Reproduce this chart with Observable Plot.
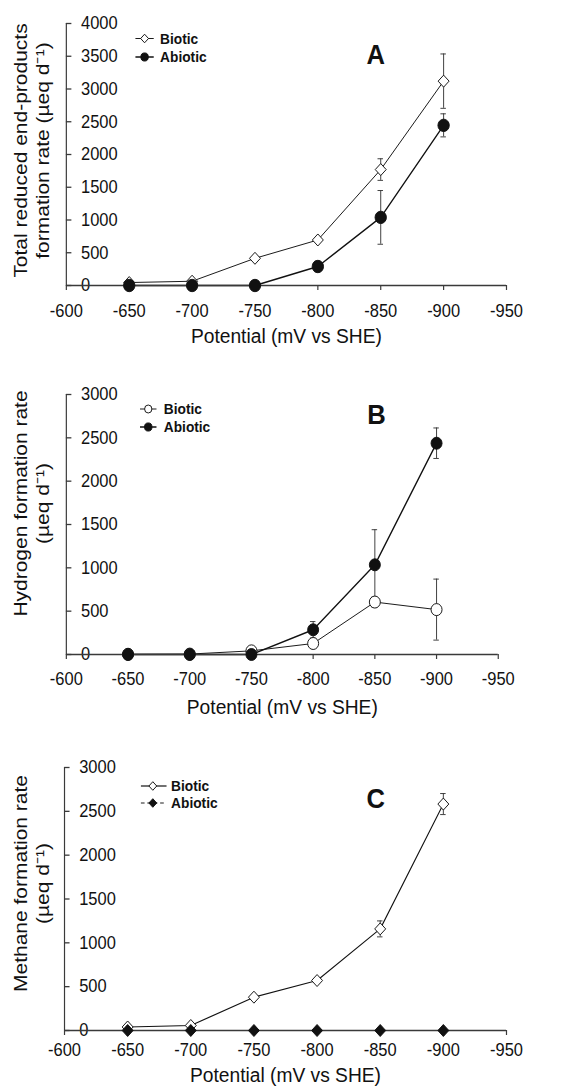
<!DOCTYPE html>
<html><head><meta charset="utf-8">
<script src="https://cdn.jsdelivr.net/npm/d3@7"></script>
<script src="https://cdn.jsdelivr.net/npm/@observablehq/plot@0.6"></script>
<style>
body{margin:0;background:#fff;}
#chart svg{display:block;}
</style></head><body><div id="chart"></div>
<script>
// ---------- data ----------
const potentials = [-650, -700, -750, -800, -850, -900];
const xTicks = [-600, -650, -700, -750, -800, -850, -900, -950];
const xTitle = "Potential (mV vs SHE)";
const legendLabels = ["Biotic", "Abiotic"];

// Panel A: total reduced end-products
const totalBiotic = [45, 65, 415, 695, 1770, 3120];
const totalBioticErr = [0, 0, 0, 0, 165, 415];
const totalAbiotic = [0, 0, 0, 290, 1040, 2445];
const totalAbioticErr = [0, 0, 0, 80, 410, 176];
const yTicksA = [0, 500, 1000, 1500, 2000, 2500, 3000, 3500, 4000];
const yTitleA = "Total reduced end-products\nformation rate (µeq d⁻¹)";

// Panel B: hydrogen
const h2Biotic = [3, 5, 42, 127, 605, 518];
const h2BioticErr = [0, 0, 0, 40, 60, 352];
const h2Abiotic = [0, 0, 0, 285, 1035, 2438];
const h2AbioticErr = [0, 0, 0, 95, 405, 176];
const yTicksB = [0, 500, 1000, 1500, 2000, 2500, 3000];
const yTitleB = "Hydrogen formation rate\n(µeq d⁻¹)";

// Panel C: methane
const ch4Biotic = [40, 57, 380, 570, 1159, 2583];
const ch4BioticErr = [0, 0, 0, 0, 91, 120];
const ch4Abiotic = [0, 0, 0, 0, 0, 0];
const ch4AbioticErr = [0, 0, 0, 0, 0, 0];
const yTicksC = [0, 500, 1000, 1500, 2000, 2500, 3000];
const yTitleC = "Methane formation rate\n(µeq d⁻¹)";

// ---------- helpers ----------
const W0 = 624;      // drawing width (original figure proportions)
const WOUT = 571;    // displayed width
const axisColor = "#3a3a3a";
const ink = "#111";
const font = "'Liberation Sans', Arial, Helvetica, sans-serif";

const rows = (vals, errs) => potentials.map((x, i) => ({x, y: vals[i], err: errs[i]}));

function legendMark(items, o) {
  return function() {
    const g = d3.create("svg:g").attr("font-family", font);
    items.forEach((it, i) => {
      const y = o.y0 + i * o.dy;
      g.append("line").attr("x1", o.x1).attr("x2", o.x2).attr("y1", y).attr("y2", y)
        .attr("stroke", ink).attr("stroke-width", it.lw).attr("stroke-dasharray", it.dash || null);
      const sym = it.symbol === "circle" ? d3.symbolCircle : d3.symbolDiamond2;
      g.append("path").attr("transform", `translate(${o.xm},${y})`)
        .attr("d", d3.symbol(sym, it.size)()).attr("fill", it.fill).attr("stroke", ink).attr("stroke-width", 1);
      g.append("text").attr("x", o.xt).attr("y", y).attr("dy", "0.36em")
        .attr("text-anchor", "start")
        .attr("font-weight", "bold").attr("font-size", 15).attr("fill", ink).text(it.label);
    });
    return g.node();
  };
}

function seriesMarks(data, s) {
  const withErr = data.filter(d => d.err > 0);
  return {
    line: Plot.line(data, {x: "x", y: "y", stroke: ink, strokeWidth: s.lw, strokeDasharray: s.dash}),
    err: [
      Plot.ruleX(withErr, {x: "x", y1: d => d.y - d.err, y2: d => d.y + d.err, stroke: axisColor, strokeWidth: 1}),
      Plot.ruleY(withErr, {y: d => d.y + d.err, x1: "x", x2: "x", insetLeft: -3, insetRight: -3, stroke: axisColor, strokeWidth: 1}),
      Plot.ruleY(withErr, {y: d => d.y - d.err, x1: "x", x2: "x", insetLeft: -3, insetRight: -3, stroke: axisColor, strokeWidth: 1})
    ],
    dot: Plot.dot(data, {x: "x", y: "y", r: s.r, symbol: s.symbol, fill: s.fill, stroke: ink, strokeWidth: 1})
  };
}

function panel(p) {
  const plotW = W0 - p.marginLeft - p.marginRight;
  const b = seriesMarks(p.biotic, p.bStyle);
  const a = seriesMarks(p.abiotic, p.aStyle);
  const svg = Plot.plot({
    width: W0, height: p.height,
    marginTop: p.marginTop, marginBottom: p.marginBottom, marginLeft: p.marginLeft, marginRight: p.marginRight,
    style: {fontFamily: font, background: "#fff", overflow: "visible"},
    x: {domain: [-600, -950]},
    y: {domain: [0, p.yMax], axis: null},
    marks: [
      Plot.axisX(xTicks, {tickSize: 5, tickPadding: p.xLabelPad, tickFormat: d => String(d), fontSize: 18, stroke: axisColor, strokeWidth: 1.3, fill: ink, label: null}),
      Plot.ruleX([xTicks[0]], {stroke: axisColor, strokeWidth: 1.3}),
      Plot.tickY(p.yTicks, {y: d => d, insetRight: plotW - 6, stroke: axisColor, strokeWidth: 1.3}),
      Plot.text(p.yTicks, {y: d => d, text: d => String(d), frameAnchor: "left", dx: 16, textAnchor: "start", lineAnchor: "middle", fontSize: 18, fill: ink}),
      Plot.text([p.yTitle], {text: d => d, frameAnchor: "left", dx: 33.6 - p.marginLeft, dy: p.titleDy, rotate: -90, fontSize: 21, lineHeight: 1.14, textAnchor: "middle", lineAnchor: "middle", fill: ink}),
      Plot.text([xTitle], {text: d => d, frameAnchor: "bottom", dy: p.xTitleDy, fontSize: 21, lineAnchor: "middle", fill: ink}),
      Plot.text([p.letter], {text: d => d, frameAnchor: "top-left", dx: p.letterDx, dy: p.letterDy, fontSize: 28, fontWeight: "bold", textAnchor: "middle", lineAnchor: "middle", fill: ink}),
      b.line, a.line,
      Plot.ruleY([0], {stroke: axisColor, strokeWidth: 1.3}),
      ...b.err, ...a.err,
      b.dot, a.dot,
      legendMark(p.legend, p.legendPos)
    ]
  });
  // display the figure at the page width, keeping the vertical scale
  svg.setAttribute("width", WOUT);
  svg.setAttribute("height", p.height);
  svg.setAttribute("viewBox", `0 0 ${W0} ${p.height}`);
  svg.setAttribute("preserveAspectRatio", "none");
  svg.style.width = WOUT + "px";
  svg.style.height = p.height + "px";
  svg.style.maxWidth = "none";
  return svg;
}

const chart = document.getElementById("chart");

chart.append(panel({
  height: 350, marginTop: 23, marginBottom: 65, marginLeft: 72, marginRight: 71,
  yMax: 4000, yTicks: yTicksA, yTitle: yTitleA, titleDy: -4,
  letter: "A", letterDx: 338, letterDy: 32, xLabelPad: 13.6, xTitleDy: 51,
  biotic: rows(totalBiotic, totalBioticErr), abiotic: rows(totalAbiotic, totalAbioticErr),
  bStyle: {lw: 1, symbol: "diamond2", r: 5.4, fill: "#fff"},
  aStyle: {lw: 1.5, symbol: "circle", r: 6.2, fill: ink},
  legend: [
    {label: legendLabels[0], symbol: "diamond2", size: 47, fill: "#fff", lw: 1},
    {label: legendLabels[1], symbol: "circle", size: 52, fill: ink, lw: 1.5}
  ],
  legendPos: {x1: 148, x2: 168, xm: 158, xt: 175, y0: 38.5, dy: 18.5}
}));

chart.append(panel({
  height: 375, marginTop: 44, marginBottom: 71, marginLeft: 72, marginRight: 80,
  yMax: 3000, yTicks: yTicksB, yTitle: yTitleB, titleDy: -21,
  letter: "B", letterDx: 339, letterDy: 21, xLabelPad: 12.6, xTitleDy: 53,
  biotic: rows(h2Biotic, h2BioticErr), abiotic: rows(h2Abiotic, h2AbioticErr),
  bStyle: {lw: 1, symbol: "circle", r: 6, fill: "#fff"},
  aStyle: {lw: 1.5, symbol: "circle", r: 6, fill: ink},
  legend: [
    {label: legendLabels[0], symbol: "circle", size: 50, fill: "#fff", lw: 1},
    {label: legendLabels[1], symbol: "circle", size: 52, fill: ink, lw: 1.5}
  ],
  legendPos: {x1: 153, x2: 171, xm: 162, xt: 179, y0: 59, dy: 18}
}));

chart.append(panel({
  height: 367, marginTop: 42, marginBottom: 62, marginLeft: 70, marginRight: 71,
  yMax: 3000, yTicks: yTicksC, yTitle: yTitleC, titleDy: -15.5,
  letter: "C", letterDx: 340, letterDy: 32, xLabelPad: 7.6, xTitleDy: 45,
  biotic: rows(ch4Biotic, ch4BioticErr), abiotic: rows(ch4Abiotic, ch4AbioticErr),
  bStyle: {lw: 1.2, symbol: "diamond2", r: 5.4, fill: "#fff"},
  aStyle: {lw: 1, symbol: "diamond2", r: 5.4, fill: ink, dash: "5,3"},
  legend: [
    {label: legendLabels[0], symbol: "diamond2", size: 47, fill: "#fff", lw: 1.2},
    {label: legendLabels[1], symbol: "diamond2", size: 47, fill: ink, lw: 1, dash: "4,3"}
  ],
  legendPos: {x1: 154, x2: 182, xm: 167, xt: 187, y0: 61, dy: 17}
}));
</script></body></html>
